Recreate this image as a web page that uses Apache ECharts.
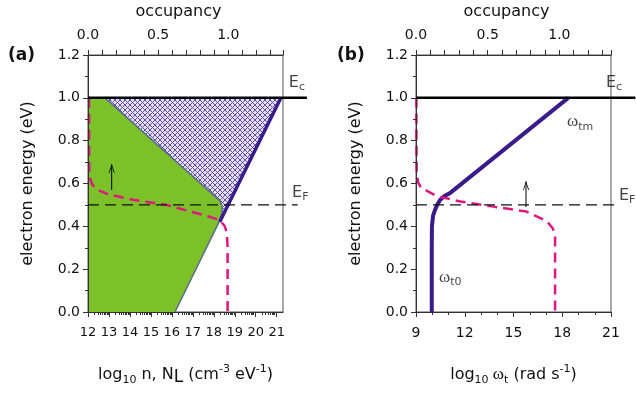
<!DOCTYPE html>
<html><head><meta charset="utf-8">
<script src="https://cdn.jsdelivr.net/npm/echarts@6/dist/echarts.min.js"></script>
<style>html,body{margin:0;padding:0;background:#fff}#c{width:636px;height:394px}</style>
</head><body><div id="c"></div>
<script>
// ---------- data (energy in eV on y) ----------
const energyRange = [0, 1.2];
const xTicksA = [12, 13, 14, 15, 16, 17, 18, 19, 20, 21];
const xTicksB = [9, 12, 15, 18, 21];
const occLabels = [0, 0.5, 1.0];
// panel (a): log10 n region (green) and N_L hatched region, [log10 value, energy]
const greenRegionA = [[12, 0], [16.15, 0], [18.3, 0.43], [18.4, 0.47], [18.38, 0.5], [18.29, 0.52], [12.81, 1.0], [12, 1.0]];
const hatchRegionA = [[12.81, 1.0], [21.2, 1.0], [18.45, 0.46], [18.38, 0.5], [18.29, 0.52]];
const greenEdgeA = [[16.15, 0], [18.3, 0.43], [18.4, 0.47], [18.38, 0.5], [18.29, 0.52], [12.81, 1.0]];
const nlLineA = [[18.28, 0.42], [21.2, 1.0]];
// occupancy (top axis) vs energy
const fermiA = [[0.008, 1.0], [0.008, 0.8], [0.009, 0.67], [0.015, 0.625], [0.03, 0.595], [0.07, 0.57], [0.14, 0.55], [0.33, 0.523], [0.56, 0.5], [0.81, 0.455], [0.94, 0.43], [0.975, 0.40], [0.99, 0.37], [0.995, 0.3], [0.995, 0]];
const fermiB = [[0.003, 1.0], [0.003, 0.8], [0.005, 0.65], [0.015, 0.605], [0.035, 0.58], [0.145, 0.541], [0.31, 0.516], [0.54, 0.492], [0.77, 0.469], [0.91, 0.425], [0.955, 0.39], [0.97, 0.35], [0.97, 0]];
// panel (b): log10 omega_t vs energy
const omegaB = [[9.97, 0], [9.97, 0.3], [9.98, 0.4], [10.05, 0.45], [10.17, 0.477], [10.3, 0.5], [10.48, 0.523], [10.75, 0.542], [11.09, 0.555], [18.37, 1.0]];
const ecLevel = 1.0, efLevel = 0.5;
const ecLineA = [[12, ecLevel], [22.44, ecLevel]];
const efLineA = [[12, efLevel], [22.0, efLevel]];
const ecLineB = [[9, ecLevel], [22.5, ecLevel]];
const efLineB = [[9, efLevel], [21.2, efLevel]];
const arrowA = [[13.13, 0.57], [13.13, 0.69]];
const arrowB = [[15.77, 0.49], [15.77, 0.61]];
const labelPosA = {Ec: [21.58, 1.07], EF: [21.73, 0.556]};
const labelPosB = {Ec: [20.69, 1.07], EF: [21.49, 0.542], wtm: [18.29, 0.89], wt0: [10.42, 0.163]};

// ---------- styling ----------
const FONT = 'DejaVu Sans';
const AX = '#333';
const MAG = '#e0177e', PUR = '#3b1a8c', GREEN = '#7cc02a';

function hatchCanvas() {
  const n = 5;
  const c = document.createElement('canvas'); c.width = n; c.height = n;
  const g = c.getContext('2d');
  g.fillStyle = '#e6e0f4'; g.fillRect(0, 0, n, n);
  g.fillStyle = '#5e4fa2';
  for (let i = 0; i < n; i++) { g.fillRect(i, i, 1, 1); g.fillRect(n - 1 - i, i, 1, 1); }
  return c;
}
const minorLogA = [];
for (let d = 12; d <= 21; d++) for (let k = 2; k <= 9; k++) { const v = d + Math.log10(k); if (v < 21.29) minorLogA.push(v); }

const rich = {
  t: {fontFamily: FONT, fontSize: 16, color: '#111', lineHeight: 22, verticalAlign: 'middle'},
  s: {fontFamily: FONT, fontSize: 11, color: '#111', lineHeight: 11, verticalAlign: 'bottom'},
  L: {fontFamily: FONT, fontSize: 17, color: '#111', lineHeight: 15, verticalAlign: 'bottom'},
  p: {fontFamily: FONT, fontSize: 11, color: '#111', lineHeight: 11, verticalAlign: 'top'},
  w: {fontFamily: 'Liberation Serif', fontSize: 17, color: '#111', lineHeight: 22, verticalAlign: 'middle'},
  e: {fontFamily: FONT, fontSize: 16, color: '#111', lineHeight: 20, verticalAlign: 'middle'},
  es: {fontFamily: FONT, fontSize: 11, color: '#111', lineHeight: 11, verticalAlign: 'bottom'}
};

function yAxis(grid) {
  return {type: 'value', gridIndex: grid, min: energyRange[0], max: energyRange[1], interval: 0.2, z: 4,
    name: 'electron energy (eV)', nameLocation: 'middle', nameGap: 52, nameTextStyle: {fontFamily: FONT, fontSize: 16, color: '#111'},
    axisLine: {show: true, lineStyle: {color: AX, width: 1}},
    axisTick: {show: true, length: 5, lineStyle: {color: AX}},
    minorTick: {show: true, splitNumber: 2, length: 3, lineStyle: {color: AX}},
    axisLabel: {fontFamily: FONT, fontSize: 14, color: '#111', margin: 8, formatter: v => v.toFixed(1)},
    splitLine: {show: false}, minorSplitLine: {show: false}};
}
function topAxis(grid, max) {
  return {type: 'value', gridIndex: grid, position: 'top', min: 0, max: max, interval: 0.1, z: 4,
    name: 'occupancy', nameLocation: 'middle', nameGap: 35, nameTextStyle: {fontFamily: FONT, fontSize: 16, color: '#111', padding: [0, 14, 0, 0]},
    axisLine: {show: true, lineStyle: {color: AX}},
    axisTick: {show: true, length: 5, lineStyle: {color: AX}},
    axisLabel: {fontFamily: FONT, fontSize: 14, color: '#111', margin: 13, customValues: occLabels, formatter: v => v.toFixed(1)},
    splitLine: {show: false}};
}
function pline(points, xi, yi, stroke, width, dash, z) {
  return {type: 'custom', xAxisIndex: xi, yAxisIndex: yi, silent: true, animation: false, clip: false, z: z || 3,
    data: [points[0]],
    renderItem: (p, api) => ({type: 'polyline', shape: {points: points.map(d => api.coord(d))},
      style: {stroke: stroke, lineWidth: width, lineDash: dash || null, fill: null, lineJoin: 'round'}})};
}
const ARROW = 'path://M0,10 L5,0 L10,10 L9,10.6 L5,2.4 L1,10.6 Z';
function arrow(data, xi, yi) {
  return {type: 'line', xAxisIndex: xi, yAxisIndex: yi, symbol: 'none', clip: false, silent: true, animation: false, z: 6,
    lineStyle: {color: '#000', width: 1},
    data: [data[0], {value: data[1], symbol: ARROW, symbolSize: [6, 9], symbolOffset: [0, '50%'], itemStyle: {color: '#000'}}]};
}
function poly(points, xi, yi, fill, z) {
  return {type: 'custom', xAxisIndex: xi, yAxisIndex: yi, silent: true, animation: false, clip: false, z: z || 1,
    data: [points[0]],
    renderItem: (p, api) => ({type: 'polygon', shape: {points: points.map(d => api.coord(d))}, style: {fill: fill}})};
}
function txt(pos, fmt, xi, yi) {
  return {type: 'scatter', xAxisIndex: xi, yAxisIndex: yi, symbolSize: 0, clip: false, silent: true, animation: false, z: 7,
    data: [{value: pos}],
    label: {show: true, position: [0, 0], align: 'left', verticalAlign: 'middle', formatter: fmt, rich: rich}};
}

const option = {
  animation: false,
  backgroundColor: '#fff',
  title: [
    {text: '(a)', left: 8, top: 47, padding: 0, textStyle: {fontFamily: FONT, fontSize: 17, fontWeight: 'bold', color: '#111'}},
    {text: '(b)', left: 337, top: 47, padding: 0, textStyle: {fontFamily: FONT, fontSize: 17, fontWeight: 'bold', color: '#111'}}
  ],
  grid: [
    {left: 88, right: 353, top: 55, bottom: 82, containLabel: false, outerBoundsMode: 'none', show: true, borderColor: '#555', borderWidth: 1, backgroundColor: 'transparent'},
    {left: 416, right: 25, top: 55, bottom: 82, containLabel: false, outerBoundsMode: 'none', show: true, borderColor: '#555', borderWidth: 1, backgroundColor: 'transparent'}
  ],
  xAxis: [
    {type: 'value', gridIndex: 0, position: 'bottom', min: 12, max: 21.3, z: 4,
      name: '{t|log}{s|10}{t| n, N}{L|L}{t| (cm}{p|-3}{t| eV}{p|-1}{t|)}', nameLocation: 'middle', nameGap: 52,
      nameTextStyle: {rich: rich},
      axisLine: {show: true, lineStyle: {color: AX}},
      axisTick: {show: true, length: 5, customValues: xTicksA, lineStyle: {color: AX}},
      axisLabel: {fontFamily: FONT, fontSize: 13, color: '#111', margin: 14, customValues: xTicksA},
      splitLine: {show: false}},
    {type: 'value', gridIndex: 0, position: 'bottom', min: 12, max: 21.3, z: 4,
      axisLine: {show: false}, axisLabel: {show: false},
      axisTick: {show: true, length: 3, customValues: minorLogA, lineStyle: {color: AX}},
      splitLine: {show: false}},
    topAxis(0, 1.39),
    {type: 'value', gridIndex: 1, position: 'bottom', min: 9, max: 21, interval: 3, z: 4,
      name: '{t|log}{s|10}{w| ω}{s|t}{t| (rad s}{p|-1}{t|)}', nameLocation: 'middle', nameGap: 52,
      nameTextStyle: {rich: rich},
      axisLine: {show: true, lineStyle: {color: AX}},
      axisTick: {show: true, length: 5, lineStyle: {color: AX}},
      minorTick: {show: true, splitNumber: 3, length: 3, lineStyle: {color: AX}},
      axisLabel: {fontFamily: FONT, fontSize: 14, color: '#111', margin: 14},
      splitLine: {show: false}, minorSplitLine: {show: false}},
    topAxis(1, 1.36)
  ],
  yAxis: [yAxis(0), yAxis(1)],
  series: [
    poly(greenRegionA, 0, 0, GREEN, 1),
    poly(hatchRegionA, 0, 0, {image: hatchCanvas(), repeat: 'repeat'}, 1),
    pline(greenEdgeA, 0, 0, '#5d6b8c', 1.5, null, 2),
    pline(nlLineA, 0, 0, PUR, 3.5, null, 3),
    pline(fermiA, 2, 0, MAG, 2.5, [10, 6], 4),
    pline(efLineA, 0, 0, '#111', 1.2, [11, 6], 5),
    pline(ecLineA, 0, 0, '#000', 2.5, null, 5),
    arrow(arrowA, 0, 0),
    txt(labelPosA.Ec, '{e|E}{es|c}', 0, 0),
    txt(labelPosA.EF, '{e|E}{es|F}', 0, 0),

    pline(omegaB, 3, 1, PUR, 4, null, 3),
    pline(fermiB, 4, 1, MAG, 2.5, [10, 6], 4),
    pline(efLineB, 3, 1, '#111', 1.2, [11, 6], 5),
    pline(ecLineB, 3, 1, '#000', 2.5, null, 5),
    arrow(arrowB, 3, 1),
    txt(labelPosB.Ec, '{e|E}{es|c}', 3, 1),
    txt(labelPosB.EF, '{e|E}{es|F}', 3, 1),
    txt(labelPosB.wtm, '{w|ω}{es|tm}', 3, 1),
    txt(labelPosB.wt0, '{w|ω}{es|t0}', 3, 1)
  ]
};
const chart = echarts.init(document.getElementById('c'), null, {renderer: 'canvas'});
chart.setOption(option);
</script>
</body></html>
